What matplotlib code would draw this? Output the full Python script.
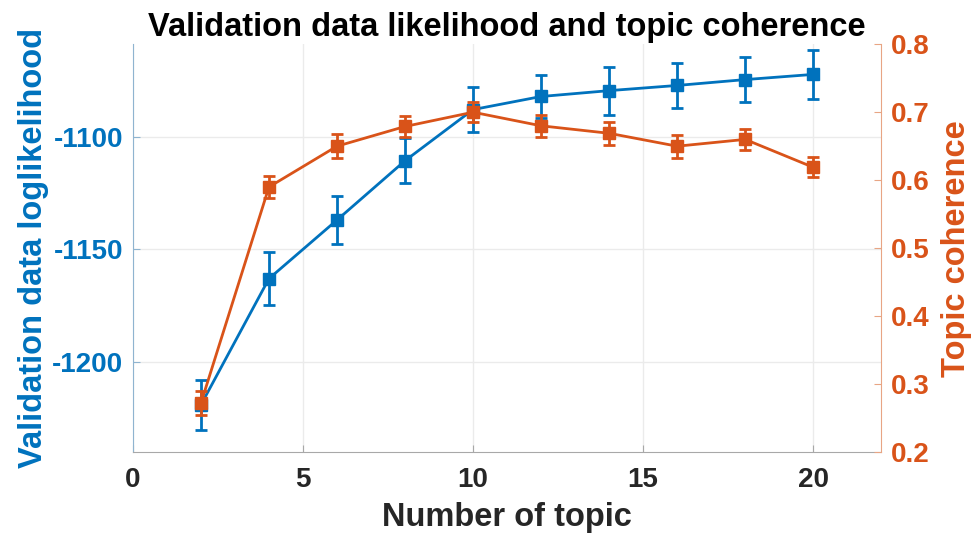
import matplotlib
matplotlib.use("Agg")
import matplotlib.pyplot as plt
import numpy as np

plt.rcParams['font.family'] = ['Liberation Sans', 'DejaVu Sans']
plt.rcParams['font.weight'] = 'bold'
plt.rcParams['axes.unicode_minus'] = False

# number of topics
topics = [2, 4, 6, 8, 10, 12, 14, 16, 18, 20]
# validation loglikelihood and its error
loglik = [-1219, -1163, -1137, -1110.7, -1088, -1082.2, -1079.6, -1077.3, -1074.7, -1072.4]
loglik_err = [11, 11.8, 10.7, 10, 9.8, 9.6, 10.7, 10, 10, 10.7]
# topic coherence and its error
coher = [0.272, 0.590, 0.650, 0.679, 0.700, 0.680, 0.669, 0.650, 0.660, 0.619]
coher_err = [0.018, 0.016, 0.018, 0.016, 0.015, 0.016, 0.017, 0.017, 0.015, 0.015]

blue = '#0072BD'
orange = '#D95319'
dark = '#262626'

fig = plt.figure(figsize=(9.77, 5.39), dpi=100)
ax = fig.add_axes([0.136, 0.161, 0.766, 0.757])
ax2 = ax.twinx()

ax.errorbar(topics, loglik, yerr=loglik_err, color=blue, marker='s', markersize=8,
            linewidth=2, elinewidth=2, capsize=4, capthick=2)
ax2.errorbar(topics, coher, yerr=coher_err, color=orange, marker='s', markersize=8,
             linewidth=2, elinewidth=2, capsize=4, capthick=2)

ax.set_xlim(0, 22)
ax.set_ylim(-1240, -1059)
ax2.set_ylim(0.2, 0.8)
ax.set_xticks([0, 5, 10, 15, 20])
ax.set_yticks([-1200, -1150, -1100])
ax2.set_yticks([0.2, 0.3, 0.4, 0.5, 0.6, 0.7, 0.8])
ax2.set_yticklabels(['0.2', '0.3', '0.4', '0.5', '0.6', '0.7', '0.8'])

ax.grid(True, color='#ebebeb', linewidth=1)
ax.set_axisbelow(True)

for a in (ax, ax2):
    a.spines['top'].set_visible(False)
ax.spines['right'].set_visible(False)
ax.spines['left'].set_color('#8fb4d0')
ax.spines['bottom'].set_color('#a8a8a8')
ax2.spines['left'].set_visible(False)
ax2.spines['bottom'].set_visible(False)
ax2.spines['right'].set_color('#e8a584')

ax.tick_params(axis='x', direction='in', colors='#a8a8a8', labelcolor=dark, labelsize=20, length=5, pad=11)
ax.tick_params(axis='y', direction='in', colors='#8fb4d0', labelcolor=blue, labelsize=20, length=5, pad=7)
ax2.tick_params(axis='y', direction='in', colors='#e8a584', labelcolor=orange, labelsize=20, length=5, pad=7)

ax.set_xlabel('Number of topic', fontsize=23.5, fontweight='bold', color=dark, labelpad=6)
ax.set_ylabel('Validation data loglikelihood', fontsize=23.5, fontweight='bold', color=blue, labelpad=2)
ax2.set_ylabel('Topic coherence', fontsize=23.5, fontweight='bold', color=orange, labelpad=8)
ax.set_title('Validation data likelihood and topic coherence', fontsize=23.5,
             fontweight='bold', color='black', pad=6)

fig.savefig('out.png', dpi=100)
